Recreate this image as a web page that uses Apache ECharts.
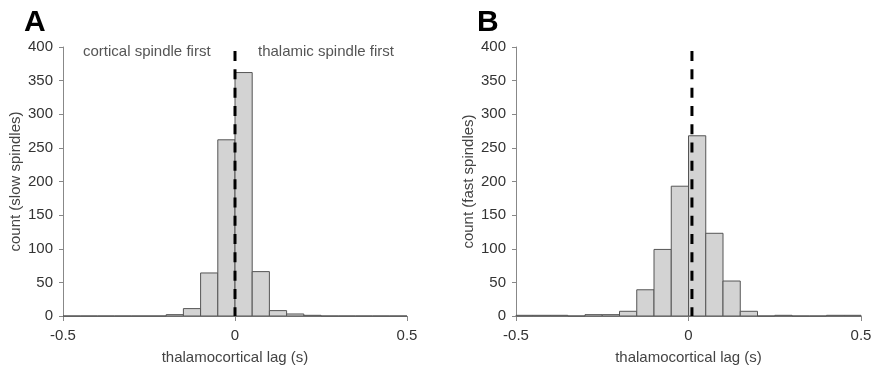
<!DOCTYPE html>
<html>
<head>
<meta charset="utf-8">
<script src="https://cdn.jsdelivr.net/npm/echarts@6/dist/echarts.min.js"></script>
<style>
html,body{margin:0;padding:0;background:#fff;}
#chart{width:873px;height:366px;}
</style>
</head>
<body>
<div id="chart"></div>
<script>
// Bin edges (s)
const binEdges = [-0.5,-0.45,-0.4,-0.35,-0.3,-0.25,-0.2,-0.15,-0.1,-0.05,0,0.05,0.1,0.15,0.2,0.25,0.3,0.35,0.4,0.45,0.5];
// Panel A: slow spindles counts per bin
const slowCounts = [0,0,0,0,0,0,2,11,64,262,362,66,8,3,1,0,0,0,0,0];
// Panel B: fast spindles counts per bin
const fastCounts = [1,1,1,0,2,2,7,39,99,193,268,123,52,7,0,1,0,0,1,1];
// Dashed reference lines: [x, yTop]
const slowDash = [0, 394];
const fastDash = [0.01, 394];
const xTicks = [-0.5, 0, 0.5];
const yTicks = [0,50,100,150,200,250,300,350,400];
const panelLabels = ['A','B'];
const yNames = ['count (slow spindles)','count (fast spindles)'];
const xName = 'thalamocortical lag (s)';
const noteLeft = 'cortical spindle first';
const noteRight = 'thalamic spindle first';

const FONT = '"Liberation Sans", Arial, sans-serif';

function binData(counts){
  return counts.map((c,i)=>[binEdges[i], binEdges[i+1], c]);
}

function renderBar(params, api){
  const x0 = api.value(0), x1 = api.value(1), v = api.value(2);
  const p0 = api.coord([x0, v]);
  const p1 = api.coord([x1, 0]);
  return {
    type:'rect',
    shape:{x:p0[0], y:p0[1], width:p1[0]-p0[0], height:p1[1]-p0[1]},
    style:{fill:'#d3d3d3', stroke:'#555', lineWidth:1}
  };
}

function xAxisCfg(idx){
  return {
    gridIndex: idx, type:'value', min:-0.5, max:0.5, interval:0.5,
    name: xName, nameLocation:'middle', nameGap:34,
    nameTextStyle:{fontFamily:FONT, fontSize:15, color:'#444'},
    axisLine:{onZero:false, lineStyle:{color:'#888', width:1}},
    axisTick:{show:true, length:5, lineStyle:{color:'#888'}},
    axisLabel:{fontFamily:FONT, fontSize:15, color:'#333', margin:12,
      formatter: v => (Math.abs(v)<1e-9 ? '0' : String(v))},
    splitLine:{show:false}
  };
}
function yAxisCfg(idx){
  return {
    gridIndex: idx, type:'value', min:0, max:400, interval:50,
    name: yNames[idx], nameLocation:'middle', nameGap:40, nameRotate:90,
    nameTextStyle:{fontFamily:FONT, fontSize:15, color:'#444'},
    axisLine:{show:true, onZero:false, lineStyle:{color:'#888', width:1}},
    axisTick:{show:true, length:4, lineStyle:{color:'#888'}},
    axisLabel:{fontFamily:FONT, fontSize:15, color:'#333', margin:10},
    splitLine:{show:false}
  };
}

const chart = echarts.init(document.getElementById('chart'), null, {renderer:'canvas'});
chart.setOption({
  animation:false,
  backgroundColor:'#fff',
  grid:[
    {left:63, top:47, width:344, height:269, containLabel:false, outerBoundsMode:'none'},
    {left:516, top:47, width:345, height:269, containLabel:false, outerBoundsMode:'none'}
  ],
  xAxis:[xAxisCfg(0), xAxisCfg(1)],
  yAxis:[yAxisCfg(0), yAxisCfg(1)],
  graphic:[
    {type:'text', left:24, top:8, style:{text:panelLabels[0], font:'bold 30px '+FONT, fill:'#000'}},
    {type:'text', left:477, top:8, style:{text:panelLabels[1], font:'bold 30px '+FONT, fill:'#000'}},
    {type:'text', left:83, top:44, style:{text:noteLeft, font:'15px '+FONT, fill:'#555'}},
    {type:'text', left:258, top:44, style:{text:noteRight, font:'15px '+FONT, fill:'#555'}}
  ],
  series:[
    {type:'custom', xAxisIndex:0, yAxisIndex:0, renderItem:renderBar,
     encode:{x:[0,1], y:2}, data:binData(slowCounts), z:2},
    {type:'custom', xAxisIndex:1, yAxisIndex:1, renderItem:renderBar,
     encode:{x:[0,1], y:2}, data:binData(fastCounts), z:2},
    {type:'line', xAxisIndex:0, yAxisIndex:0, symbol:'none', z:5,
     data:[[slowDash[0],slowDash[1]],[slowDash[0],0]],
     lineStyle:{color:'#000', width:3, type:[10,8.3]}},
    {type:'line', xAxisIndex:1, yAxisIndex:1, symbol:'none', z:5,
     data:[[fastDash[0],fastDash[1]],[fastDash[0],0]],
     lineStyle:{color:'#000', width:3, type:[10,8.3]}}
  ]
});
</script>
</body>
</html>
